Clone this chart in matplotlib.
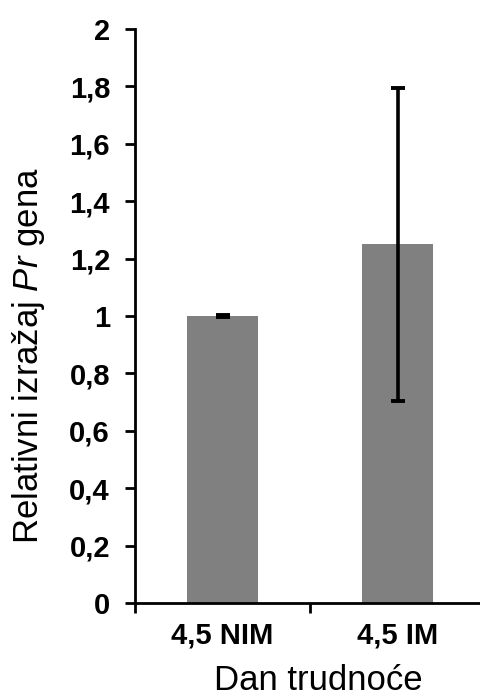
import matplotlib
matplotlib.use('Agg')
import matplotlib.pyplot as plt
import numpy as np

categories = ['4,5 NIM', '4,5 IM']
values = [1.0, 1.25]
errors = [0.004, 0.545]
yticks = [0, 0.2, 0.4, 0.6, 0.8, 1.0, 1.2, 1.4, 1.6, 1.8, 2.0]
yticklabels = ['0', '0,2', '0,4', '0,6', '0,8', '1', '1,2', '1,4', '1,6', '1,8', '2']

plt.rcParams['font.family'] = ['Liberation Sans', 'DejaVu Sans']
plt.rcParams['mathtext.fontset'] = 'custom'
plt.rcParams['mathtext.it'] = 'Liberation Sans:italic'
plt.rcParams['mathtext.rm'] = 'Liberation Sans'

fig = plt.figure(figsize=(4.81, 6.99), dpi=100)
ax = fig.add_axes([135/481, 1 - 603/699, 350/481, 574/699])

x = np.arange(len(categories))
ax.bar(x, values, width=0.41, color='#808080', zorder=2)
ax.errorbar(x, values, yerr=errors, fmt='none', ecolor='black',
            elinewidth=2.6, capsize=5, capthick=2.8, zorder=3)

ax.set_xlim(-0.5, 1.5)
ax.set_ylim(0, 2)
ax.set_yticks(yticks)
ax.set_yticklabels(yticklabels, fontsize=21, fontweight='bold')
ax.set_xticks([-0.5, 0.5, 1.5])
ax.set_xticklabels([])
ax.set_xticks(x, minor=True)
ax.set_xticklabels(categories, minor=True, fontsize=21, fontweight='bold')
ax.tick_params(axis='x', which='minor', length=0, pad=13)
ax.tick_params(axis='x', which='major', length=7, width=2, direction='out')
ax.tick_params(axis='y', length=7, width=2, direction='out', pad=11)

for s in ['top', 'right']:
    ax.spines[s].set_visible(False)
for s in ['left', 'bottom']:
    ax.spines[s].set_linewidth(2)

fig.text(29/481, 1 - 356/699, r'Relativni izražaj $\mathit{Pr}$ gena',
         rotation=90, ha='center', va='center', fontsize=25)
fig.text(318/481, 1 - 680/699, 'Dan trudnoće', ha='center', va='center', fontsize=25)

plt.savefig('out.png', dpi=100)
plt.close()
